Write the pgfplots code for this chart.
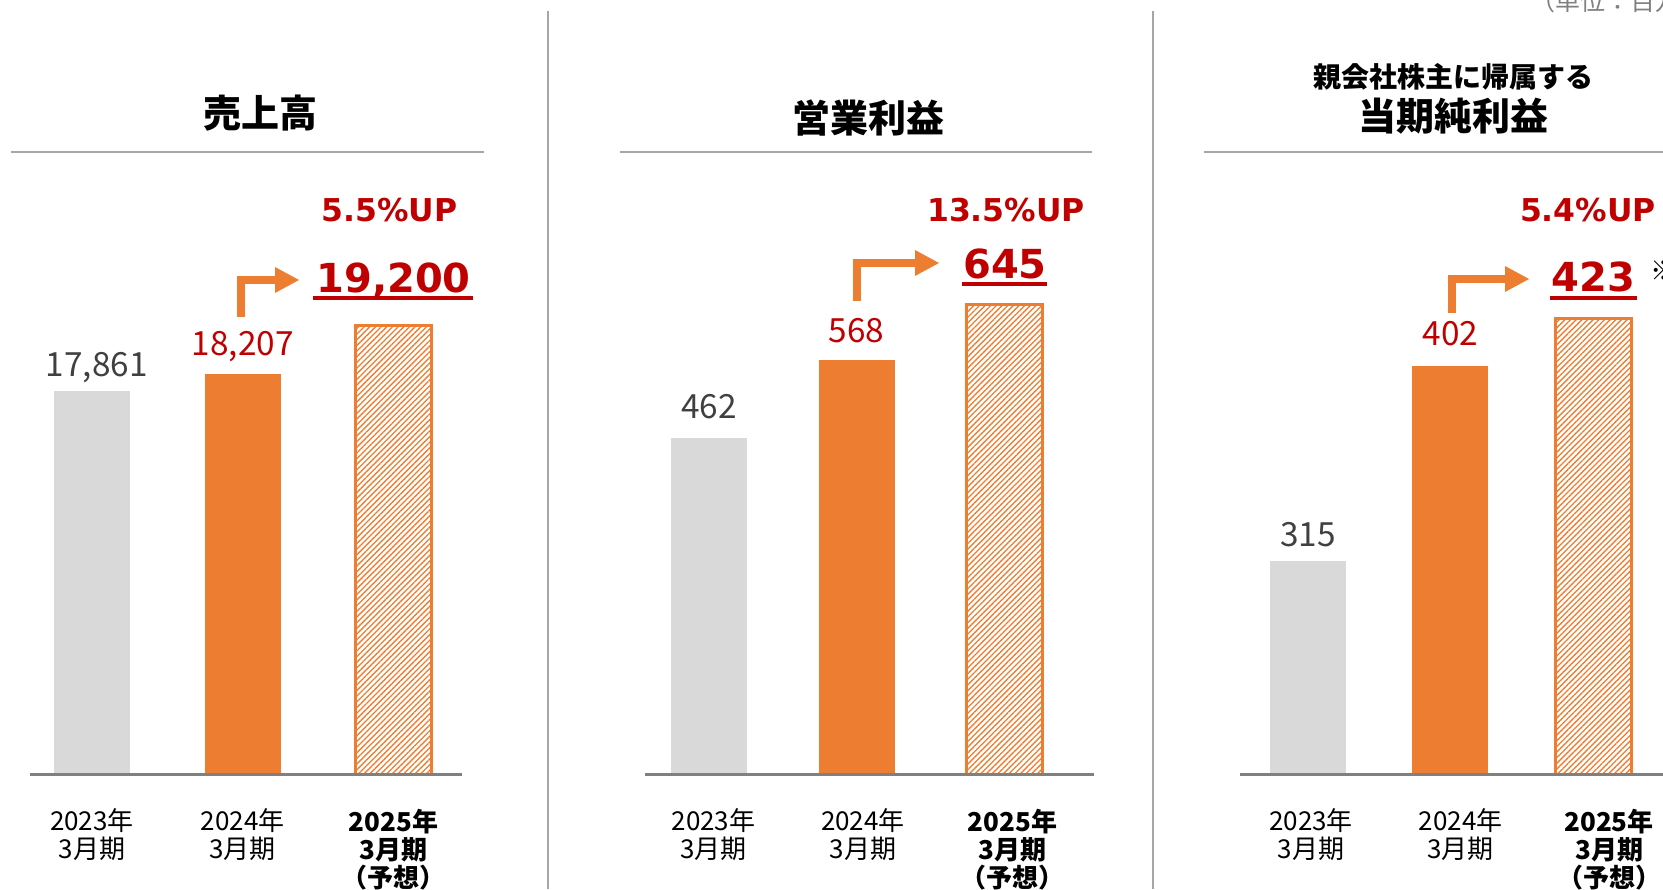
\documentclass[border=0pt]{standalone}
\usepackage{fontspec}
\usepackage{pgfplots}
\pgfplotsset{compat=1.18}
\usetikzlibrary{patterns.meta}
\setmainfont{Noto Sans CJK JP}
\newfontfamily\djb{DejaVu Sans}
\definecolor{barGray}{HTML}{D9D9D9}
\definecolor{barOrange}{HTML}{ED7D31}
\definecolor{upRed}{HTML}{C00000}
\definecolor{txtGray}{HTML}{404040}
\definecolor{ruleGray}{HTML}{A6A6A6}
\definecolor{axGray}{HTML}{808080}
\newcommand\vallab{\fontsize{25}{29}\selectfont}
\newcommand\bignum{\djb\bfseries\fontsize{30}{36}\selectfont}
\newcommand\uplab{\djb\bfseries\fontsize{23.6}{28}\selectfont}
\newcommand\ttl{\bfseries\fontsize{28.5}{32}\selectfont}
\pgfplotsset{
  panel/.style={
    anchor=south west, scale only axis, height=468pt,
    axis y line=none, axis x line*=bottom,
    x axis line style={-, draw=axGray, line width=2.25pt},
    axis on top,
    major tick length=0pt,
    xticklabels={{2023年\\3月期},{2024年\\3月期},{{\bfseries 2025年}\\{\bfseries 3月期}\\{\bfseries （予想）}}},
    xticklabel style={anchor=north, inner sep=0pt, yshift=-26pt, align=center,
      font=\fontsize{19.5}{21}\selectfont, text=black},
    clip mode=individual,
    every axis plot/.append style={ybar, bar width=57pt, bar shift=0pt},
  },
  grayb/.style={fill=barGray, draw=none},
  orgb/.style={fill=barOrange, draw=none},
  hatb/.style={draw=barOrange, line width=2.25pt,
    pattern={Lines[angle=45,distance=3pt,line width=1pt]}, pattern color=barOrange},
}
\begin{document}
\begin{tikzpicture}[x=0.75pt,y=0.75pt]
\useasboundingbox (0pt,0pt) rectangle (1247.25pt,666.75pt);
\clip (0pt,0pt) rectangle (1247.25pt,666.75pt);

% Panel 1: net sales (axis line 774 px from top = 115 px from bottom)
\begin{axis}[panel, at={(22.5pt,86.25pt)}, width=324pt,
  xtick={0,1,2},
  xmin=-0.411, xmax=2.455, ymin=10000, ymax=22808]
\addplot[grayb] coordinates {(0,17861)};
\addplot[orgb] coordinates {(1,18207)};
\addplot[hatb] coordinates {(2,19200)};
\node[anchor=base, text=txtGray, font=\vallab, yshift=11.25pt, xshift=3.5pt] at (axis cs:0,17861) {17,861};
\node[anchor=base, text=upRed, font=\vallab, yshift=14.25pt] at (axis cs:1,18207) {18,207};
\end{axis}

% Panel 2: operating profit
\begin{axis}[panel, at={(483.75pt,86.25pt)}, width=336.75pt,
  xtick={0.03,1.043,2.058},
  xmin=-0.434, xmax=2.61, ymin=0, ymax=857.1]
\addplot[grayb] coordinates {(0,462)};
\addplot[orgb] coordinates {(1,568)};
\addplot[hatb] coordinates {(2,645)};
\node[anchor=base, text=txtGray, font=\vallab, yshift=14pt] at (axis cs:0,462) {462};
\node[anchor=base, text=upRed, font=\vallab, yshift=13.5pt] at (axis cs:1,568) {568};
\end{axis}

% Panel 3: net profit
\begin{axis}[panel, at={(930pt,86.25pt)}, width=345pt,
  xtick={0.022,1.071,2.113},
  xmin=-0.477, xmax=2.751, ymin=220, ymax=498.3]
\addplot[grayb] coordinates {(0,315)};
\addplot[orgb] coordinates {(1,402)};
\addplot[hatb] coordinates {(2,423)};
\node[anchor=base, text=txtGray, font=\vallab, yshift=10.5pt] at (axis cs:0,315) {315};
\node[anchor=base, text=upRed, font=\vallab, yshift=15pt] at (axis cs:1,402) {402};
\end{axis}

% annotations in top-down pixel coordinates
\begin{scope}[x=0.75pt, y=-0.75pt, shift={(0pt,666.75pt)}]
\draw[ruleGray, line width=1.5pt] (548,11) -- (548,889);
\draw[ruleGray, line width=1.5pt] (1153,11) -- (1153,889);
\draw[ruleGray, line width=1.5pt] (11,152) -- (484,152);
\draw[ruleGray, line width=1.5pt] (620,152) -- (1092,152);
\draw[ruleGray, line width=1.5pt] (1204,152) -- (1670,152);

\node[font=\ttl] at (260,113) {売上高};
\node[font=\ttl] at (868,118) {営業利益};
\node[font=\bfseries\fontsize{21}{25}\selectfont] at (1453,77) {親会社株主に帰属する};
\node[font=\ttl] at (1453,116) {当期純利益};
\node[anchor=base west, inner sep=0pt, text=axGray, font=\fontsize{18.75}{22}\selectfont] at (1530,11) {（単位：百万円）};
\node[anchor=west, inner sep=0pt, font=\fontsize{20}{24}\selectfont] at (1650,271) {※};

\draw[barOrange, line width=6pt, line join=miter, line cap=butt] (240.5,317) -- (240.5,280) -- (277,280);
\fill[barOrange] (275,267) -- (299,280) -- (275,293) -- cycle;
\draw[barOrange, line width=6pt, line join=miter, line cap=butt] (857,301) -- (857,263) -- (917,263);
\fill[barOrange] (915,250) -- (939,263) -- (915,276) -- cycle;
\draw[barOrange, line width=6pt, line join=miter, line cap=butt] (1452,313) -- (1452,279) -- (1507,279);
\fill[barOrange] (1505,266) -- (1529,279) -- (1505,292) -- cycle;

\node[anchor=base, text=upRed, font=\uplab] at (389.5,222) {5.5\%UP};
\node[anchor=base, text=upRed, font=\uplab] at (1006,222) {13.5\%UP};
\node[anchor=base, text=upRed, font=\uplab] at (1588,222) {5.4\%UP};
\node[anchor=base, text=upRed, font=\bignum] at (393.5,293) {19,200};
\node[anchor=base, text=upRed, font=\bignum] at (1005,279) {645};
\node[anchor=base, text=upRed, font=\bignum] at (1593.5,292) {423};
\draw[upRed, line width=2.6pt] (313,298) -- (473,298);
\draw[upRed, line width=2.6pt] (962,284) -- (1047,284);
\draw[upRed, line width=2.6pt] (1550,298) -- (1637,298);
\end{scope}
\end{tikzpicture}
\end{document}
